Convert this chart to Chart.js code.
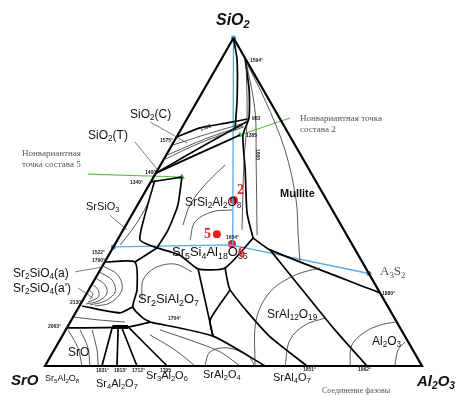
<!DOCTYPE html>
<html>
<head>
<meta charset="utf-8">
<script src="https://cdn.jsdelivr.net/npm/chart.js@4/dist/chart.umd.min.js"></script>
<style>
  html, body { margin: 0; padding: 0; background: #fff; }
  #wrap { position: relative; width: 461px; height: 396px; overflow: hidden; }
  #wrap canvas { position: absolute; left: 0; top: 0; }
  .lab { position: absolute; font-family: Arial, "Liberation Sans", sans-serif; font-size: 12px; line-height: 1; white-space: nowrap; color: #111; }
  .lab sub { font-size: 68%; vertical-align: -0.3em; line-height: 0; }
  .big { font-weight: bold; font-style: italic; font-size: 16px; }
  .ru { font-family: "Liberation Serif", "DejaVu Serif", serif; font-size: 9px; color: #555; line-height: 11px; }
  .red { font-family: "Liberation Serif", serif; color: #e32222; font-weight: bold; font-size: 14px; }
  .t { font-size: 5px; font-weight: bold; color: #222; }
</style>
</head>
<body>
<div id="wrap">
  <canvas id="chart" width="461" height="396"></canvas>

  <div class="lab big" style="left:216px;top:12px">SiO<sub>2</sub></div>
  <div class="lab big" style="left:11px;top:372px;font-size:15px">SrO</div>
  <div class="lab big" style="left:417px;top:373px;font-size:15px">Al<sub>2</sub>O<sub>3</sub></div>

  <div class="lab" style="left:45px;top:374px;font-size:9px">Sr<sub>5</sub>Al<sub>2</sub>O<sub>8</sub></div>
  <div class="lab" style="left:96px;top:378px;font-size:11px">Sr<sub>4</sub>Al<sub>2</sub>O<sub>7</sub></div>
  <div class="lab" style="left:146px;top:370px;font-size:11px">Sr<sub>3</sub>Al<sub>2</sub>O<sub>6</sub></div>
  <div class="lab" style="left:203px;top:369px;font-size:11px">SrAl<sub>2</sub>O<sub>4</sub></div>
  <div class="lab" style="left:273px;top:372px;font-size:11px">SrAl<sub>4</sub>O<sub>7</sub></div>
  <div class="lab ru" style="left:322px;top:385px;font-size:8px">Соединение фазовы</div>

  <div class="lab" style="left:130px;top:108px">SiO<sub>2</sub>(C)</div>
  <div class="lab" style="left:88px;top:129px">SiO<sub>2</sub>(T)</div>
  <div class="lab" style="left:86px;top:201px;font-size:11px">SrSiO<sub>3</sub></div>
  <div class="lab" style="left:185px;top:196px">SrSi<sub>2</sub>Al<sub>2</sub>O<sub>8</sub></div>
  <div class="lab" style="left:280px;top:188px;font-size:11px;font-weight:bold">Mullite</div>
  <div class="lab" style="left:172px;top:245px;font-size:13px">Sr<sub>5</sub>Si<sub>4</sub>Al<sub>18</sub>O<sub>36</sub></div>
  <div class="lab" style="left:138px;top:292px;font-size:13px">Sr<sub>2</sub>SiAl<sub>2</sub>O<sub>7</sub></div>
  <div class="lab" style="left:267px;top:308px">SrAl<sub>12</sub>O<sub>19</sub></div>
  <div class="lab" style="left:372px;top:335px">Al<sub>2</sub>O<sub>3</sub></div>
  <div class="lab" style="left:13px;top:267px">Sr<sub>2</sub>SiO<sub>4</sub>(a)</div>
  <div class="lab" style="left:13px;top:282px">Sr<sub>2</sub>SiO<sub>4</sub>(a')</div>
  <div class="lab" style="left:68px;top:346px">SrO</div>
  <div class="lab ru" style="left:380px;top:264px;font-size:13px;line-height:1">A<sub>3</sub>S<sub>2</sub></div>
  <div class="lab ru" style="left:300px;top:113px">Нонвариантная точка<br>состава 2</div>
  <div class="lab ru" style="left:22px;top:148px">Нонвариантная<br>точка состава 5</div>

  <div class="lab red" style="left:237px;top:183px">2</div>
  <div class="lab red" style="left:204px;top:227px">5</div>
  <div class="lab red" style="left:238px;top:246px">6</div>

  <div class="lab t" style="left:250px;top:58px">1594°</div>
  <div class="lab t" style="left:160px;top:138px">1575°</div>
  <div class="lab t" style="left:145px;top:170px">1460°</div>
  <div class="lab t" style="left:130px;top:180px">1340°</div>
  <div class="lab t" style="left:252px;top:116px">983</div>
  <div class="lab t" style="left:246px;top:133px">1385</div>
  <div class="lab t" style="left:200px;top:125px;transform:rotate(-18deg)">1592</div>
  <div class="lab t" style="left:252px;top:152px;transform:rotate(90deg)">1800</div>
  <div class="lab t" style="left:92px;top:250px">1522°</div>
  <div class="lab t" style="left:92px;top:258px">1790°</div>
  <div class="lab t" style="left:70px;top:300px">2130°</div>
  <div class="lab t" style="left:48px;top:324px">2063°</div>
  <div class="lab t" style="left:226px;top:235px">1654°</div>
  <div class="lab t" style="left:382px;top:291px">1880°</div>
  <div class="lab t" style="left:358px;top:367px">1962°</div>
  <div class="lab t" style="left:303px;top:367px">1851°</div>
  <div class="lab t" style="left:96px;top:368px">1831°</div>
  <div class="lab t" style="left:114px;top:368px">1813°</div>
  <div class="lab t" style="left:132px;top:368px">1712°</div>
  <div class="lab t" style="left:160px;top:368px">1795</div>
  <div class="lab t" style="left:168px;top:316px">1704°</div>
</div>

<script>
// every point is a composition [SiO2 wt%, Al2O3 wt%]; SrO is the rest
const triangle = [[100, 0], [0, 0], [0, 100], [100, 0]];

// phase field boundaries
const edgeApex = [[100, 0], [93.3, 4.3], [81.1, 10.4], [72, 14.4]];
const edge1594 = [[93.9, 6.1], [84.1, 12.1], [75.6, 16.3], [70.4, 17.3], [59.8, 23.2], [46.6, 30.3], [39, 35.7]];
const edge1575 = [[69.8, 0], [72.6, 4.8], [74.1, 11.3], [75.3, 16.1]];
const edge1460a = [[58.8, 0], [64.9, 8.6], [70.4, 16.5]];
const edge1460b = [[58.8, 0], [67.4, 8.7], [74.7, 16.5]];
const edge1340 = [[56.1, 0], [57.6, 7.5]];
const edgeSrSiO3 = [[56.7, 0.8], [46, 3.5], [38.4, 6], [36, 11.7]];
const edgeSAS2 = [[57.6, 7.5], [49.1, 10.7], [41.5, 11.9], [36, 11.7]];
const edgeHex = [[36, 11.7], [33.8, 18.9], [29.6, 25.8], [29.9, 32.8], [39, 35.7]];
const edgeMullite = [[39, 35.7], [35.4, 42], [22.3, 77.7]];
const edgeCA6 = [[35.4, 42], [24.1, 55.6], [11, 71.4], [0, 85.4]];
const edgeCA2 = [[29.9, 32.8], [23.2, 37.5], [9.5, 54.4], [0, 69.5]];
const edgeCA1a = [[23.2, 37.5], [14, 36.8], [9.1, 40]];
const edgeCA1b = [[29.6, 25.8], [20.1, 32.4], [9.1, 40]];
const edgeTop2S = [[36, 11.7], [31.7, 8]];
const edge2S = [[31.7, 0], [31.7, 8], [23.2, 12.8], [18, 14.3], [14.6, 18.7], [13.4, 21.2]];
const edge2Sbottom = [[18.3, 0.7], [16.2, 11.8], [18, 14.3]];
const edgeS2A = [[13.4, 21.2], [9.1, 40], [0, 58.4]];
const edgeSrO = [[11.6, 0], [11.9, 16.1], [13.4, 21.2]];
const fan1 = [[11.6, 12], [0, 15.1]];
const fan2 = [[11.6, 13.6], [0, 19.1]];
const fan3 = [[11.6, 14.6], [0, 24.4]];
const fan4 = [[11.9, 16.1], [0, 32.4]];
const blob = [[11.9, 11.9], [11.9, 16.1]];

// isotherms
const isoA = [[62.8, 0], [68, 7.1], [72.9, 16.3]];
const isoA2 = [[64.3, 0.3], [69.2, 7.8], [73.2, 15.9]];
const isoA3 = [[67.4, 0.3], [71, 8.3], [74.1, 16]];
const isoB = [[92.7, 7], [75, 16.1], [62.8, 21.4], [41.5, 31.5]];
const isoC = [[92.7, 7], [78, 16.7], [62.8, 24.6], [39.9, 36.3]];
const isoD = [[92.7, 7], [81.1, 17.8], [65.9, 30.7], [50.6, 41.3], [39.9, 47.2], [31.7, 51.8]];
const isoE = [[61.3, 17.1], [55.2, 14.8], [49.1, 13.9], [43, 15.1]];
const isoF = [[38.4, 19.3], [43.9, 17.8], [47, 20.8], [47.6, 25.8]];
const isoG = [[36.9, 1.5], [43, 2.5], [49, 2.5], [53.7, 1.5]];
const arc1 = [[30.5, 0.1], [27.7, 5.5], [23.2, 8.8], [19.2, 7.6], [18.3, 4.1]];
const arc2 = [[28.7, 0], [26.2, 4.7], [22.6, 7.3], [19.8, 6], [18.6, 2.6]];
const arc3 = [[26.8, 0.1], [24.7, 3.6], [22, 5.4], [19.8, 4.2], [18.9, 1.4]];
const arc4 = [[25, 0], [23.2, 2.5], [21, 3.6], [19.5, 1.65]];
const arc5 = [[23.2, 0.1], [22, 1.7], [20.4, 1.7]];
const band1 = [[14.9, 0.2], [14, 7.6], [13.4, 14.5]];
const sro1 = [[11, 0.6], [5.5, 6], [0, 9.8]];
const sro2 = [[11, 3.8], [5.5, 8.65], [0, 11.9]];
const sro3 = [[11, 7], [4.9, 11.35], [0, 14.1]];
const iso2SA = [[20.1, 15.7], [26.2, 12.9], [29.9, 14.2], [31.1, 18.9], [28.7, 24.6]];
const isoSA1 = [[11, 25], [7.9, 34.5], [4.3, 44.3], [0, 51.7]];
const isoSA2 = [[9.5, 23.1], [4.9, 32], [0, 39.8]];
const isoSA3 = [[0, 42.4], [4.3, 41.6], [5.5, 45.8], [3.05, 52.3], [0, 55.7]];
const isoR1 = [[0, 55.7], [14, 49], [22.6, 48.4], [27.7, 52.5], [29.9, 58]];
const isoR2 = [[0, 63.7], [7.9, 61], [12.5, 62.7], [14.6, 67]];
const isoR3 = [[0, 80.9], [6.4, 78.2], [10.4, 79.7], [12.5, 82.7], [13.4, 86.1]];
const isoR4 = [[0, 92.8], [4.9, 91.2], [7.3, 91.85]];

// label leaders
const leadC = [[74.4, -9.3], [68, 3.7]];
const leadT = [[68.3, -10.3], [59.8, 0]];
const leadA = [[28.7, -6.4], [30.2, 0.3]];
const leadA2 = [[23.8, -3.15], [20.7, 2.4]];
const leadS = [[46, -5.8], [41.5, 1]];

// sections and marked compositions
const joinVertical = [[100, 0], [37, 31.3]];
const joinHorizontal = [[36.3, 0], [36.9, 30.6], [35.7, 36.6], [28.2, 71.8]];
const bluePoints = [[100, 0], [36.3, 0], [28.2, 71.8]];
const greenLead2 = [[75.6, 27.2], [70.4, 16.5]];
const greenLead5 = [[58.5, -17.9], [57.6, 7.5]];
const greenPoints = [[70.4, 16.5], [57.6, 7.5]];
const redPoints = [[50.6, 24.8], [40.2, 25.5], [37.2, 31]];

const toXY = p => ({ x: p[1] + p[0] / 2, y: p[0] });

function line(pts, width, color, tension) {
  return {
    data: pts.map(toXY), showLine: true, borderColor: color, borderWidth: width,
    pointRadius: 0, fill: false, tension: tension || 0, clip: false
  };
}
function dots(pts, color, r, style) {
  return {
    data: pts.map(toXY), showLine: false, pointRadius: r, pointStyle: style || 'circle',
    pointBackgroundColor: color, pointBorderColor: color, borderWidth: 0, clip: false
  };
}

const thin = [isoA, isoA2, isoA3, isoB, isoC, isoD, isoE, isoF, isoG, arc1, arc2, arc3, arc4, arc5, band1,
  sro1, sro2, sro3, iso2SA, isoSA1, isoSA2, isoSA3, isoR1, isoR2, isoR3, isoR4];
const leaders = [leadC, leadT, leadA, leadA2, leadS];
const thick = [edgeApex, edge1594, edge1575, edge1460a, edge1460b, edge1340, edgeSrSiO3, edgeSAS2,
  edgeHex, edgeMullite, edgeCA6, edgeCA2, edgeCA1a, edgeCA1b, edgeTop2S, edge2S, edge2Sbottom,
  edgeS2A, edgeSrO, fan1, fan2, fan3, fan4];

const datasets = [
  ...thin.map(p => line(p, 0.8, '#2e2e2e', 0.35)),
  ...leaders.map(p => line(p, 0.7, '#444')),
  ...thick.map(p => line(p, 1.7, '#000', 0.2)),
  line(blob, 4, '#000'),
  line(triangle, 2.2, '#000'),
  line(joinVertical, 1.3, '#5aa9e6'),
  line(joinHorizontal, 1.3, '#5aa9e6'),
  line(greenLead2, 1.1, '#5cbf4a'),
  line(greenLead5, 1.1, '#5cbf4a'),
  dots(bluePoints, '#3d8fd6', 2.5),
  dots(greenPoints, '#3cb043', 3.5, 'triangle'),
  dots(redPoints, '#e41e1e', 4)
];

new Chart(document.getElementById('chart'), {
  type: 'scatter',
  data: { datasets },
  options: {
    responsive: false,
    animation: false,
    layout: { padding: { left: 45, right: 39, top: 38, bottom: 30 } },
    plugins: { legend: { display: false }, tooltip: { enabled: false } },
    scales: {
      x: { type: 'linear', min: 0, max: 100, display: false },
      y: { type: 'linear', min: 0, max: 100, display: false }
    }
  }
});
</script>
</body>
</html>
